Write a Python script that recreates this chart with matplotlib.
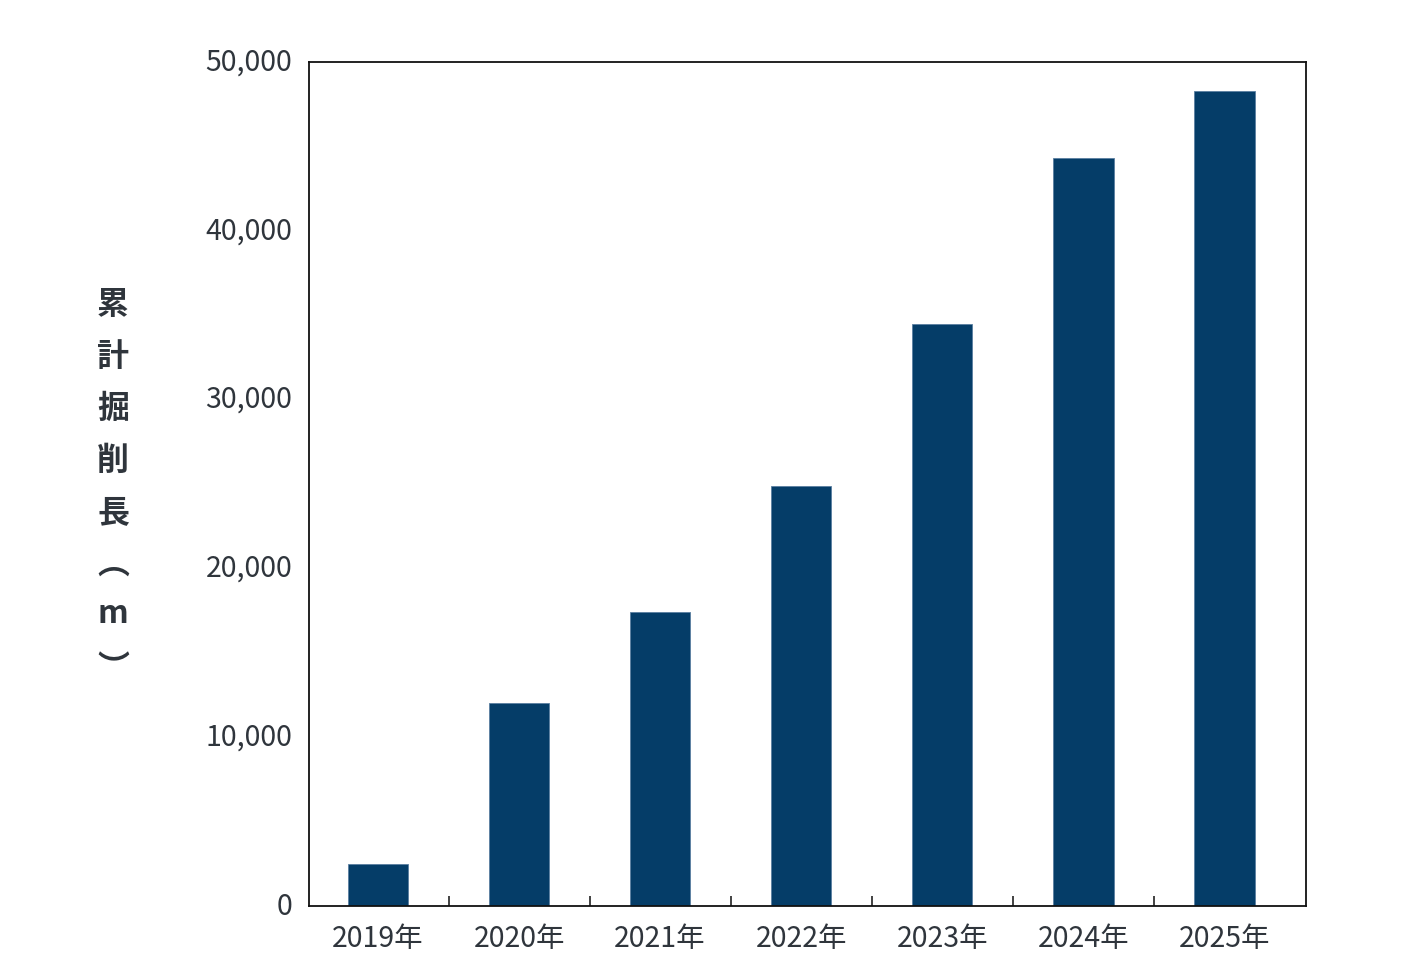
import matplotlib
matplotlib.use("Agg")
import matplotlib.pyplot as plt
import matplotlib.transforms as mtransforms
import numpy as np

plt.rcParams['font.family'] = ['Noto Sans CJK JP', 'DejaVu Sans']

years = ["2019年", "2020年", "2021年", "2022年", "2023年", "2024年", "2025年"]
values = [2500, 12000, 17400, 24900, 34500, 44300, 48300]
yticks = [0, 10000, 20000, 30000, 40000, 50000]
ytick_labels = ["0", "10,000", "20,000", "30,000", "40,000", "50,000"]
ylabel_chars = ["累", "計", "掘", "削", "長", "︵", "m", "︶"]

bar_color = "#053d68"
text_color = "#2f353c"

W, H = 1413, 980
fig = plt.figure(figsize=(W/100, H/100), dpi=100)
ax = fig.add_axes([309/W, 1 - 906/H, (1306-309)/W, (906-62)/H])

x = np.arange(len(years))
ax.bar(x, values, width=0.43, color=bar_color, edgecolor="#5a7fa0", linewidth=0.6)

ax.set_xlim(-0.49, len(years) - 0.42)
ax.set_ylim(0, 50000)

ax.set_yticks(yticks)
ax.set_yticklabels(ytick_labels)
ax.tick_params(axis='y', length=0, pad=12, labelsize=20.5, labelcolor=text_color)
offset = mtransforms.ScaledTranslation(0, 3/100, fig.dpi_scale_trans)
for lab in ax.get_yticklabels():
    lab.set_transform(lab.get_transform() + offset)

ax.set_xticks(x)
ax.set_xticklabels(years)
ax.tick_params(axis='x', which='major', length=0, pad=13, labelsize=20.5, labelcolor=text_color)
ax.set_xticks(np.arange(0.5, len(years) - 1, 1.0), minor=True)
ax.tick_params(axis='x', which='minor', direction='in', length=7, width=1.2, color='#222222')

for s in ax.spines.values():
    s.set_color('#111111')
    s.set_linewidth(1.3)

# vertical y-axis label, one character per cell
ypix = [305, 357, 409, 461, 513, 565, 614, 669]
for ch, yp in zip(ylabel_chars, ypix):
    fig.text(113/W, 1 - yp/H, ch, ha='center', va='center',
             fontsize=23, fontweight='bold', color=text_color)

fig.savefig("out.png", dpi=100, facecolor="white")
